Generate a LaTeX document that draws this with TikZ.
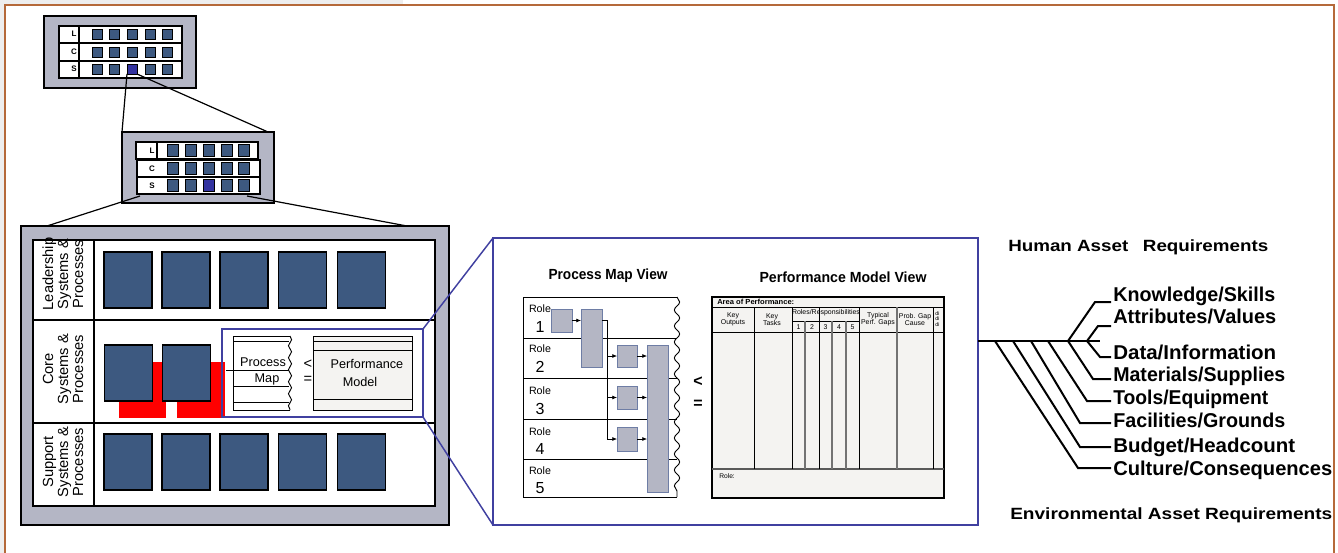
\documentclass[tikz,border=0pt]{standalone}
\usepackage{fontspec}
\setmainfont{Liberation Sans}
\usepackage{graphicx}
\usetikzlibrary{decorations.pathmorphing,arrows.meta,calc}
\newlength\pxu
\setlength\pxu{0.75pt}
\newcommand{\fw}[2]{\resizebox{#1\pxu}{\height}{#2}}
\definecolor{framebrown}{RGB}{181,105,58}
\definecolor{panelgray}{RGB}{180,182,197}
\definecolor{slate}{RGB}{61,89,128}
\definecolor{hiblue}{RGB}{51,51,160}
\definecolor{boxblue}{RGB}{64,64,160}
\definecolor{procfill}{RGB}{180,182,196}
\definecolor{procedge}{RGB}{110,125,165}
\definecolor{tabfill}{RGB}{244,243,241}
\definecolor{outgray}{RGB}{238,238,238}
\begin{document}
\begin{tikzpicture}[x=0.75pt,y=-0.75pt,line join=miter,
  sqn/.style={draw=black,fill=slate,line width=0.6pt,inner sep=0pt,outer sep=0pt},
  tsq/.style={sqn,minimum width=10\pxu,minimum height=10\pxu},
  msq/.style={sqn,minimum width=11\pxu,minimum height=12\pxu},
  bsq/.style={sqn,line width=0.9pt,minimum width=48\pxu,minimum height=56\pxu},
  redbox/.style={fill=red,draw=none,inner sep=0pt,outer sep=0pt,minimum width=47\pxu,minimum height=56\pxu},
  grayframe/.style={draw=black,line width=1.5pt,fill=panelgray,inner sep=0pt,outer sep=0pt},
  whitebox/.style={draw=black,line width=0.9pt,fill=white,inner sep=0pt,outer sep=0pt},
  lcs/.style={font=\bfseries\fontsize{6}{7}\selectfont,inner sep=0pt},
  rowlbl/.style={rotate=90,align=center,font=\fontsize{11}{11.25}\selectfont,inner sep=0pt},
  pbox/.style={draw=procedge,fill=procfill,line width=0.7pt,inner sep=0pt,outer sep=0pt},
  parr/.style={-{Latex[length=3.5pt,width=3pt]},line width=0.5pt},
  treeline/.style={line width=1.5pt},
  listitem/.style={anchor=west,inner xsep=1.5pt,inner ysep=0pt,font=\bfseries\fontsize{15}{17}\selectfont,text height=10.7pt,text depth=0pt},
  heading/.style={anchor=west,inner sep=0pt,font=\bfseries\fontsize{12.2}{14}\selectfont},
  wavyedge/.style={decorate,decoration={snake,amplitude=2pt,segment length=12pt}},
  smallwavy/.style={decorate,decoration={snake,amplitude=1.2pt,segment length=9pt}},
  th/.style={font=\fontsize{5.2}{5.4}\selectfont,align=center,inner sep=0pt},
  rolef/.style={font=\fontsize{8}{9}\selectfont,inner sep=0pt},
  numf/.style={font=\fontsize{12}{13}\selectfont,inner sep=0pt},
]
\useasboundingbox (0,0) rectangle (1338,553);
% outer frame
\fill[outgray] (0,0) rectangle (403,5);
\fill[outgray] (0,0) rectangle (5,553);
\draw[framebrown,line width=1.6pt] (5,553) -- (5,5) -- (1334,5) -- (1334,553);

% ---------- top thumbnail ----------
\node[grayframe,minimum width=152\pxu,minimum height=72\pxu] (top) at (120,52) {};
\node[whitebox,minimum width=123\pxu,minimum height=52\pxu] (ttab) at (120.5,52) {};
\draw[line width=0.9pt] (59,43) -- (182,43) (59,61) -- (182,61) (79,26) -- (79,78);
\node[lcs] (tL) at (74,34) {L};
\node[lcs] (tC) at (74,52) {C};
\node[lcs] (tS) at (74,69) {S};
\foreach \x [count=\i] in {97,114,132,150,167}{
  \ifnum\i=3 \def\fc{hiblue}\else\def\fc{slate}\fi
  \node[tsq] (tl\i) at (\x,34) {};
  \node[tsq] (tc\i) at (\x,52) {};
  \node[tsq,fill=\fc] (ts\i) at (\x,69) {};
}

% ---------- middle thumbnail ----------
\node[grayframe,minimum width=152\pxu,minimum height=71\pxu] (mid) at (198,167.5) {};
\node[whitebox,minimum width=122\pxu,minimum height=17\pxu] (mrl) at (197,150.5) {};
\node[whitebox,minimum width=123\pxu,minimum height=17\pxu] (mrc) at (198.5,168.5) {};
\node[whitebox,minimum width=123\pxu,minimum height=17\pxu] (mrs) at (198.5,185.5) {};
\draw[line width=0.9pt] (157,142) -- (157,159);
\node[lcs] (mL) at (152,151) {L};
\node[lcs] (mC) at (152,169) {C};
\node[lcs] (mS) at (152,186) {S};
\foreach \x [count=\i] in {173,191,209,227,244}{
  \ifnum\i=3 \def\fc{hiblue}\else\def\fc{slate}\fi
  \node[msq] (ml\i) at (\x,150) {};
  \node[msq] (mc\i) at (\x,168) {};
  \node[msq,fill=\fc] (ms\i) at (\x,185) {};
}
\coordinate (midtr) at (268,132);
\draw[line width=0.9pt] (ts3.south west) -- (mid.north west);
\draw[line width=0.9pt] (ts3.south east) -- (midtr);

% ---------- big panel ----------
\node[grayframe,minimum width=428\pxu,minimum height=299\pxu] (big) at (235,375.5) {};
\node[whitebox,minimum width=402\pxu,minimum height=266\pxu] (bigin) at (234,373) {};
\draw[line width=1.6pt] (33,320) -- (435,320) (33,423) -- (435,423);
\draw[line width=0.9pt] (94,240) -- (94,506);
\coordinate (mb1) at (140,196);
\coordinate (mb2) at (247,196);
\coordinate (bp1) at (47,226);
\coordinate (bp2) at (407,226);
\draw[line width=0.9pt] (mb1) -- (bp1);
\draw[line width=0.9pt] (mb2) -- (bp2);

\node[rowlbl] (lead) at (63,274) {Leadership\\Systems \&\\Processes};
\node[rowlbl] (core) at (63,369) {Core\\Systems \&\\Processes};
\node[rowlbl] (supp) at (63,462) {Support\\Systems \&\\Processes};

\foreach \x [count=\i] in {128,186,244,302.5,361.5}{
  \node[bsq] (ls\i) at (\x,280) {};
  \node[bsq] (ss\i) at (\x,462) {};
}
\node[redbox] (red1) at (142.5,390) {};
\node[redbox,minimum width=48\pxu] (red2) at (201,390) {};
\node[bsq] (cs1) at (128.5,373) {};
\node[bsq] (cs2) at (186.5,373) {};

% mini process map
\draw[line width=0.7pt] (290,336) -- (233,336) -- (233,410) -- (290,410);
\draw[line width=0.7pt,smallwavy] (290,336) -- (290,410);
\draw[line width=0.6pt] (233,341) -- (289,341) (226,370) -- (289,370) (233,386) -- (289,386) (233,402) -- (289,402);
\node[font=\fontsize{9.5}{10}\selectfont,inner sep=0pt] (pm1) at (263,362) {Process};
\node[font=\fontsize{9.5}{10}\selectfont,inner sep=0pt] (pm2) at (267,379) {Map};
\node[font=\fontsize{11}{11}\selectfont,inner sep=0pt] (lt1) at (308,364) {<};
\node[font=\fontsize{11}{11}\selectfont,inner sep=0pt] (eq1) at (308,380) {=};
% mini performance model
\node[draw=black,line width=0.7pt,fill=tabfill,minimum width=99\pxu,minimum height=74\pxu,inner sep=0pt,outer sep=0pt] (mpm) at (362.5,373) {};
\draw[line width=0.6pt] (313,341) -- (412,341) (313,350) -- (412,350) (313,399) -- (412,399);
\node[font=\fontsize{9.5}{10}\selectfont,inner sep=0pt] (pf1) at (367,364) {Performance};
\node[font=\fontsize{9.5}{10}\selectfont,inner sep=0pt] (pf2) at (360,382) {Model};
\node[draw=boxblue,line width=1.1pt,minimum width=201\pxu,minimum height=88\pxu,inner sep=0pt,outer sep=0pt] (cbox) at (322.5,373) {};

% ---------- big blue box ----------
\node[draw=boxblue,line width=1.6pt,minimum width=485\pxu,minimum height=287\pxu,inner sep=0pt,outer sep=0pt] (bbox) at (735.5,381.5) {};
\draw[boxblue,line width=1.1pt] (cbox.north east) -- (bbox.north west);
\draw[boxblue,line width=1.1pt] (cbox.south east) -- (bbox.south west);

% process map view
\node[inner sep=0pt] (pmv) at (608,276) {\fw{119}{\bfseries\fontsize{11}{13}\selectfont Process Map View}};
\draw[line width=0.7pt] (677,297) -- (523,297) -- (523,497) -- (677,497);
\draw[line width=0.7pt,wavyedge] (677,297) -- (677,497);
\foreach \y in {338,378,419,459}{ \draw[line width=0.7pt] (523,\y) -- (677,\y); }
\foreach \n/\ya/\yb in {1/309/327,2/349/367,3/391/409,4/432/449,5/471/488}{
  \node[rolef] (ra\n) at (540,\ya) {Role};
  \node[numf] (rb\n) at (540,\yb) {\n};
}
\node[pbox,minimum width=21\pxu,minimum height=23\pxu] (B1) at (561.5,320.5) {};
\node[pbox,minimum width=21\pxu,minimum height=58\pxu] (B2) at (591.5,338) {};
\node[pbox,minimum width=20\pxu,minimum height=22\pxu] (B3) at (627,356) {};
\node[pbox,minimum width=20\pxu,minimum height=23\pxu] (B4) at (627,397.5) {};
\node[pbox,minimum width=20\pxu,minimum height=24\pxu] (B5) at (627,439) {};
\node[pbox,minimum width=21\pxu,minimum height=147\pxu] (B6) at (657.5,418.5) {};
\coordinate (sp0) at (607,320.5);
\draw[parr] (B1.east) -- (B1.east -| B2.west);
\draw[line width=0.5pt] (B1.east -| B2.east) -- (sp0) -- (sp0 |- B5.west);
\draw[parr] (sp0 |- B3.west) -- (B3.west);
\draw[parr] (sp0 |- B4.west) -- (B4.west);
\draw[parr] (sp0 |- B5.west) -- (B5.west);
\draw[parr] (B3.east) -- (B3.east -| B6.west);
\draw[parr] (B4.east) -- (B4.east -| B6.west);
\draw[parr] (B5.east) -- (B5.east -| B6.west);
\node[font=\bfseries\fontsize{12}{12}\selectfont,inner sep=0pt] (lt2) at (698,382) {<};
\node[font=\bfseries\fontsize{12}{12}\selectfont,inner sep=0pt] (eq2) at (698,404) {=};

% performance model view
\node[inner sep=0pt] (pmodv) at (843,277) {\fw{167}{\bfseries\fontsize{11}{13}\selectfont Performance Model View}};
\node[draw=black,line width=0.9pt,fill=tabfill,minimum width=232\pxu,minimum height=201\pxu,inner sep=0pt,outer sep=0pt] (ptab) at (828,397.5) {};
\draw[line width=0.6pt] (712,307) -- (944,307) (712,332) -- (944,332) (792,321) -- (859,321);
\draw[line width=0.8pt,black!65] (712,469) -- (944,469);
\foreach \x in {754,792,819,859,933}{ \draw[line width=0.6pt] (\x,307) -- (\x,469); }
\foreach \x in {805,832,846,897}{ \draw[line width=0.9pt,black!55] (\x,321) -- (\x,469); }
\draw[line width=0.9pt,black!55] (897,307) -- (897,321);
\node[anchor=west,inner sep=0pt] (area) at (717,302) {\fw{77}{\bfseries\fontsize{5.5}{6}\selectfont Area of Performance:}};
\node[th] (h1) at (733,319.5) {Key\\Outputs};
\node[th] (h2) at (772,319.5) {Key\\Tasks};
\node[th] (h3) at (826,313) {Roles/Responsibilities};
\foreach \x [count=\i] in {798.5,812,825.5,839,852.5}{ \node[th] (hn\i) at (\x,327) {\i}; }
\node[th] (h4) at (878,319.5) {Typical\\Perf. Gaps};
\node[th] (h5) at (915,319.5) {Prob. Gap\\Cause};
\begin{scope}
  \clip (933.5,308) rectangle (943.5,331);
  \node[anchor=north west,align=left,inner sep=0pt,font=\fontsize{4}{4.3}\selectfont] (dcol) at (935,311) {di\\di\\di};
\end{scope}
\node[anchor=west,inner sep=0pt,font=\fontsize{5}{6}\selectfont] (rolel) at (719,476) {Role:};

% ---------- right tree ----------
\node[heading] (hum) at (1008,247) {\fw{260}{Human Asset\hspace{0.5em} Requirements}};
\node[heading] (env) at (1010,515) {\fw{322}{Environmental Asset Requirements}};

\node[listitem] (kno) at (1111,294) {\fw{162}{Knowledge/Skills}};
\node[listitem] (att) at (1111,316) {\fw{163}{Attributes/Values}};
\node[listitem] (dat) at (1111,352) {\fw{163}{Data/Information}};
\node[listitem] (mat) at (1111,374) {\fw{172}{Materials/Supplies}};
\node[listitem] (too) at (1111,397) {\fw{155}{Tools/Equipment}};
\node[listitem] (fac) at (1111,420) {\fw{172}{Facilities/Grounds}};
\node[listitem] (bud) at (1111,445) {\fw{182}{Budget/Headcount}};
\node[listitem] (cul) at (1111,468) {\fw{219}{Culture/Consequences}};

\coordinate (t0) at (bbox.east |- {(0,341)});
\coordinate (t1) at (1100,341);
\draw[treeline] (t0) -- (t1);
\coordinate (j1) at (995,341);
\coordinate (j2) at (1013,341);
\coordinate (j3) at (1031,341);
\coordinate (j4) at (1048,341);
\coordinate (j5) at (1068,341);
\coordinate (j6) at (1087,341);
\coordinate (bk) at (1095,302);
\coordinate (ba) at (1098,326);
\coordinate (bd) at (1100,357);
\coordinate (bm) at (1093,379);
\coordinate (bt) at (1087,401);
\coordinate (bf) at (1080,423);
\coordinate (bb) at (1080,447);
\coordinate (bc) at (1078,468);
\draw[treeline] (j5) -- (bk) -- (bk -| kno.west);
\draw[treeline] (j6) -- (ba) -- (ba -| att.west);
\draw[treeline] (j6) -- (bd) -- (bd -| dat.west);
\draw[treeline] (j5) -- (bm) -- (bm -| mat.west);
\draw[treeline] (j4) -- (bt) -- (bt -| too.west);
\draw[treeline] (j3) -- (bf) -- (bf -| fac.west);
\draw[treeline] (j2) -- (bb) -- (bb -| bud.west);
\draw[treeline] (j1) -- (bc) -- (bc -| cul.west);
\end{tikzpicture}
\end{document}
